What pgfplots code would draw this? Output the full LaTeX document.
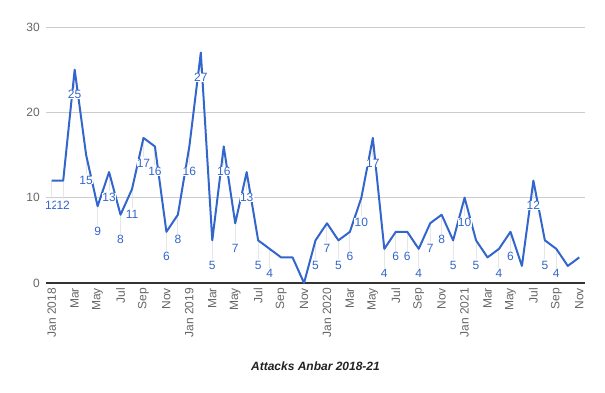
\documentclass[border=0pt]{standalone}
\usepackage{fontspec}
\setmainfont{Liberation Sans}
\usepackage{pgfplots}
\pgfplotsset{compat=1.18}
\definecolor{gblue}{HTML}{3366CC}
\definecolor{tickgrey}{HTML}{666666}
\definecolor{gridgrey}{HTML}{CCCCCC}
\definecolor{axisdark}{HTML}{333333}
\definecolor{stemgrey}{HTML}{E6E6E6}
\definecolor{titlecol}{HTML}{222222}
\begin{document}
\begin{tikzpicture}
\useasboundingbox (-46bp,-110bp) rectangle (559bp,283bp);
\begin{axis}[
  at={(0,0)}, anchor=south west,
  scale only axis, width=539bp, height=256bp,
  xmin=-0.5, xmax=46.5, ymin=0, ymax=30,
  axis line style={draw=none},
  major tick length=0pt,
  ytick={0,10,20,30},
  xtick={0,2,...,46},
  xticklabels={Jan 2018,Mar,May,Jul,Sep,Nov,Jan 2019,Mar,May,Jul,Sep,Nov,Jan 2020,Mar,May,Jul,Sep,Nov,Jan 2021,Mar,May,Jul,Sep,Nov},
  x tick label style={rotate=90, anchor=east, inner ysep=0pt, inner xsep=5bp,
    font=\fontsize{12bp}{14bp}\selectfont, text=tickgrey},
  y tick label style={anchor=east, inner sep=0pt, xshift=-6bp,
    font=\fontsize{12bp}{14bp}\selectfont, text=tickgrey},
  /pgf/number format/assume math mode=true,
  ymajorgrids,
  grid style={color=gridgrey, line width=1bp},
  extra y ticks={0},
  extra y tick labels={},
  extra y tick style={grid style={color=axisdark, line width=1.3bp}},
  xlabel={\textbf{\textit{Attacks Anbar 2018-21}}},
  xlabel style={at={(axis description cs:0.5,0)}, anchor=center, yshift=-83bp,
    font=\fontsize{12bp}{14bp}\selectfont, text=titlecol},
  clip=false,
]
% stems for the labels
\addplot[draw=none, mark=none, forget plot,
  error bars/.cd, y dir=minus, y fixed=2.2, error mark=none,
  error bar style={draw=stemgrey, line width=1bp}]
  table {
x y
0 12
1 12
2 25
3 15
4 9
5 13
6 8
7 11
8 17
9 16
10 6
11 8
12 16
13 27
14 5
15 16
16 7
17 13
18 5
19 4
23 5
24 7
25 5
26 6
27 10
28 17
29 4
30 6
31 6
32 4
33 7
34 8
35 5
36 10
37 5
39 4
40 6
42 12
43 5
44 4
};
% main line
\addplot[gblue, line width=2bp, line join=round, mark=none] table {
x y
0 12
1 12
2 25
3 15
4 9
5 13
6 8
7 11
8 17
9 16
10 6
11 8
12 16
13 27
14 5
15 16
16 7
17 13
18 5
19 4
20 3
21 3
22 0
23 5
24 7
25 5
26 6
27 10
28 17
29 4
30 6
31 6
32 4
33 7
34 8
35 5
36 10
37 5
38 3
39 4
40 6
41 2
42 12
43 5
44 4
45 2
46 3
};
% value labels
\addplot[draw=none, mark=none,
  nodes near coords,
  nodes near coords style={anchor=center, yshift=-25bp, inner sep=0.3bp,
    fill=white, text=gblue, font=\fontsize{12bp}{14bp}\selectfont,
    /pgf/number format/assume math mode=true}]
  table {
x y
0 12
1 12
2 25
3 15
4 9
5 13
6 8
7 11
8 17
9 16
10 6
11 8
12 16
13 27
14 5
15 16
16 7
17 13
18 5
19 4
23 5
24 7
25 5
26 6
27 10
28 17
29 4
30 6
31 6
32 4
33 7
34 8
35 5
36 10
37 5
39 4
40 6
42 12
43 5
44 4
};
\end{axis}
\end{tikzpicture}
\end{document}
